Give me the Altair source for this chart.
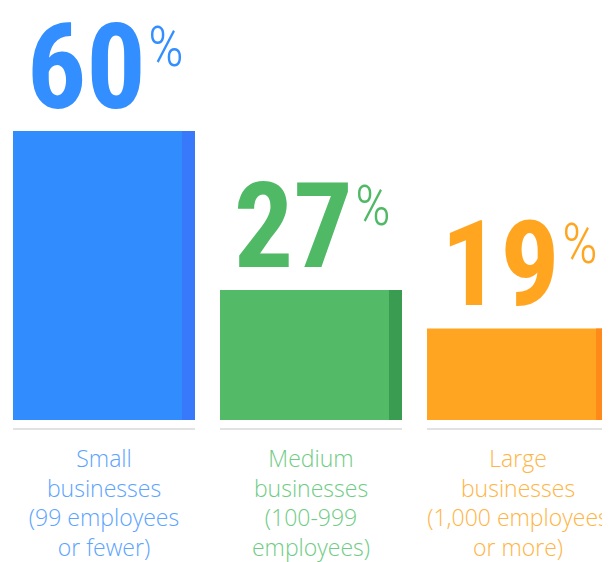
import altair as alt
import pandas as pd

categories = ["Small", "Medium", "Large"]
values = [60, 27, 19]
labels = [
    "Small\nbusinesses\n(99 employees\nor fewer)",
    "Medium\nbusinesses\n(100-999\nemployees)",
    "Large\nbusinesses\n(1,000 employees\nor more)",
]

bar_colors = ["#318cfe", "#53ba68", "#ffa521"]
strip_colors = ["#3878fb", "#3a9c51", "#ff8a1a"]
num_colors = ["#338eff", "#4fb966", "#ffa51f"]
label_colors = ["#5ba3ff", "#6fcc84", "#ffb443"]

df = pd.DataFrame({"cat": categories, "value": values, "label": labels,
                   "zero": [0, 0, 0]})

NUM_FONT = "'Roboto Condensed', 'Liberation Sans Narrow', 'DejaVu Sans Condensed', Roboto, sans-serif"
PCT_FONT = "'Roboto Condensed', Roboto, sans-serif"

x = alt.X("cat:N", sort=categories, axis=None,
          scale=alt.Scale(paddingInner=25 / 207, paddingOuter=0, range=[0, 596]))
y = alt.Y("value:Q", axis=None, scale=alt.Scale(domain=[0, 60], nice=False, zero=True))
y0 = alt.Y("zero:Q", axis=None)


def col(rng):
    return alt.Color("cat:N", scale=alt.Scale(domain=categories, range=rng), legend=None)


base = alt.Chart(df).encode(x=x)

bars = base.mark_bar().encode(y=y, color=col(bar_colors))
strips = base.mark_bar(width=13, xOffset=84.5).encode(y=y, color=col(strip_colors))
baseline = base.mark_tick(orient="horizontal", size=182, thickness=2, yOffset=9,
                          color="#d6d6d6").encode(y=y0)

nums = base.mark_text(align="right", baseline="alphabetic", dx=42, dy=-23,
                      fontSize=118, font=NUM_FONT, fontWeight="bold").encode(
    y=y, text=alt.Text("value:Q"), color=col(num_colors))
pct = base.mark_text(align="left", baseline="alphabetic", dx=44, dy=-65,
                     fontSize=56, font=PCT_FONT, fontWeight=300, text="%").encode(
    y=y, color=col(num_colors))

names = base.mark_text(align="center", baseline="alphabetic", dy=47, lineBreak="\n",
                       lineHeight=29.5, fontSize=23, font="Open Sans",
                       fontWeight=300).encode(
    y=y0, text="label:N", color=col(label_colors))

chart = alt.layer(bars, strips, baseline, nums, pct, names).resolve_scale(
    color="independent"
).properties(
    width=589, height=289,
    padding={"left": 5, "top": 123, "right": 0, "bottom": 142},
    autosize=alt.AutoSizeParams(type="none"),
    background="white",
).configure_view(stroke=None)

chart.save("out.html", embed_options={"renderer": "svg", "actions": False})
